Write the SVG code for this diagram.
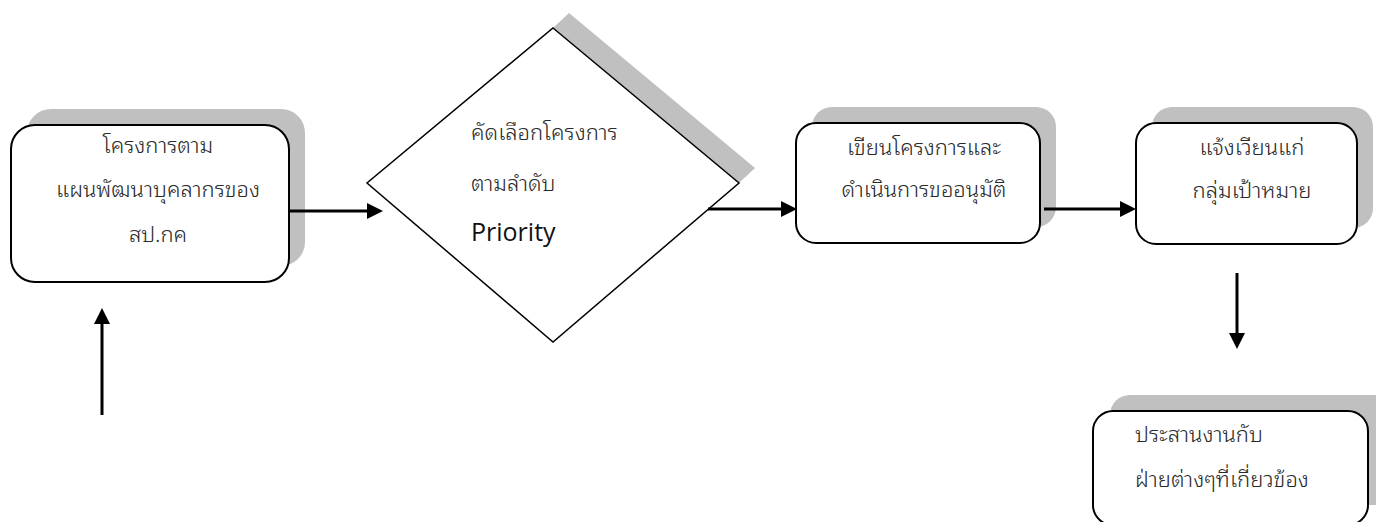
<svg xmlns="http://www.w3.org/2000/svg" width="1376" height="522" viewBox="0 0 1376 522">
  <style>
    .shadow { fill: #c0c0c0; stroke: none; }
    .box { fill: #ffffff; stroke: #000000; stroke-width: 2; }
    .th { font-family: "Noto Sans Thai Looped", "Noto Sans Thai", "Noto Sans", "DejaVu Sans", sans-serif; font-size: 22px; font-weight: 300; fill: #2a2a2a; }
    .en { font-family: "Open Sans", "Liberation Sans", sans-serif; font-size: 25px; fill: #111111; }
    .mid { text-anchor: middle; }
    .conn { stroke: #000000; stroke-width: 3; fill: none; marker-end: url(#head); }
  </style>
  <defs>
    <marker id="head" viewBox="0 0 16 16" refX="1" refY="8" markerWidth="16" markerHeight="16" markerUnits="userSpaceOnUse" orient="auto">
      <path d="M0,0 L16,8 L0,16 Z" fill="#000000"/>
    </marker>
  </defs>

  <g id="node-plan">
    <rect class="shadow" x="27" y="109" width="278" height="157" rx="24"/>
    <rect class="box" x="11" y="125" width="278" height="157" rx="24"/>
    <text class="th mid" x="158" y="153">โครงการตาม</text>
    <text class="th mid" x="158" y="197">แผนพัฒนาบุคลากรของ</text>
    <text class="th mid" x="158" y="242">สป.กค</text>
  </g>

  <g id="node-select">
    <polygon class="shadow" points="553,28 569,13 755,168 739,183"/>
    <polygon fill="#ffffff" stroke="#000000" stroke-width="1.5" points="553,28 739,183 553,342 367,183"/>
    <text class="th" x="471" y="140">คัดเลือกโครงการ</text>
    <text class="th" x="471" y="191">ตามลำดับ</text>
    <text class="en" x="471" y="241">Priority</text>
  </g>

  <g id="node-write">
    <rect class="shadow" x="812" y="107" width="244" height="120" rx="20"/>
    <rect class="box" x="796" y="123" width="244" height="120" rx="20"/>
    <text class="th mid" x="924" y="155">เขียนโครงการและ</text>
    <text class="th mid" x="924" y="197">ดำเนินการขออนุมัติ</text>
  </g>

  <g id="node-notify">
    <rect class="shadow" x="1152" y="107" width="221" height="121" rx="20"/>
    <rect class="box" x="1136" y="123" width="221" height="121" rx="20"/>
    <text class="th mid" x="1252" y="155">แจ้งเวียนแก่</text>
    <text class="th mid" x="1252" y="198">กลุ่มเป้าหมาย</text>
  </g>

  <g id="node-coordinate">
    <rect class="shadow" x="1110" y="395" width="290" height="110" rx="20"/>
    <rect class="box" x="1093" y="411" width="275" height="114" rx="20"/>
    <text class="th" x="1135" y="442">ประสานงานกับ</text>
    <text class="th" x="1135" y="487">ฝ่ายต่างๆที่เกี่ยวข้อง</text>
  </g>

  <g id="connectors">
    <line class="conn" x1="289" y1="211" x2="368" y2="211"/>
    <line class="conn" x1="708" y1="209" x2="782" y2="209"/>
    <line class="conn" x1="1044" y1="209" x2="1121" y2="209"/>
    <line class="conn" x1="1237" y1="273" x2="1237" y2="334"/>
    <line class="conn" x1="102" y1="415" x2="102" y2="323"/>
  </g>
</svg>
